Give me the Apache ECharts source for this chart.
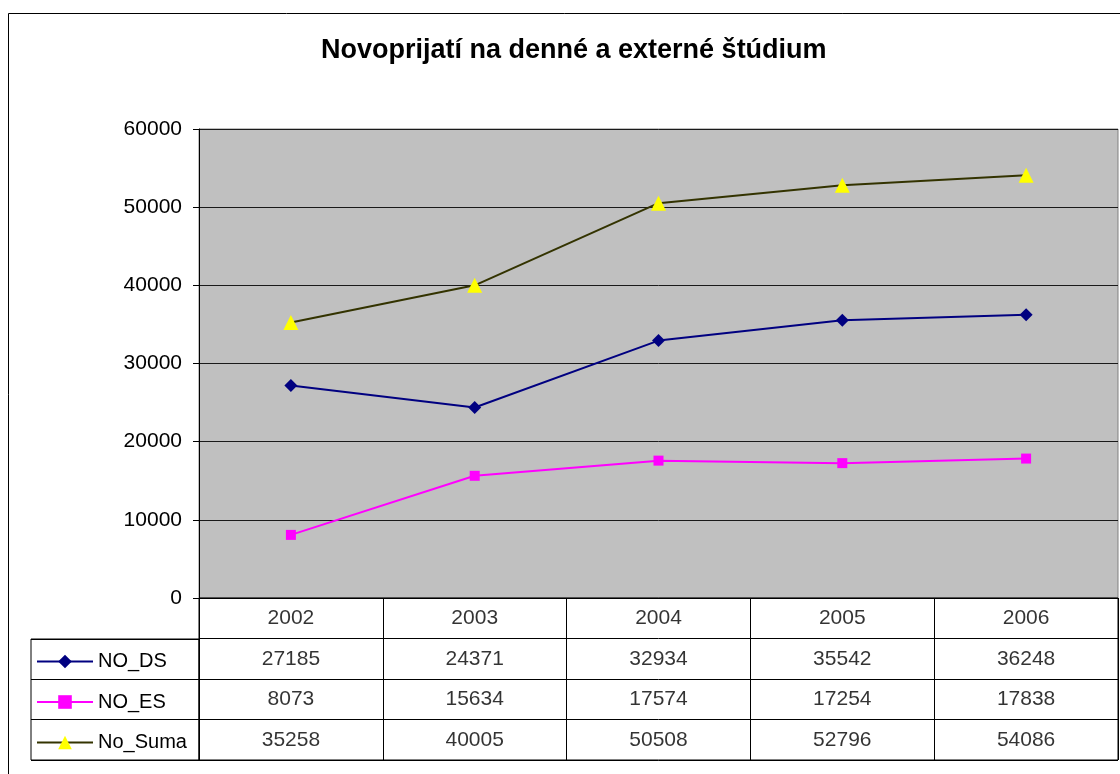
<!DOCTYPE html>
<html>
<head>
<meta charset="utf-8">
<script src="https://cdn.jsdelivr.net/npm/echarts@6/dist/echarts.min.js"></script>
<style>
html, body { margin: 0; padding: 0; background: #fff; }
#main { width: 1120px; height: 774px; }
</style>
</head>
<body>
<div id="main"></div>
<script>
// data
const years = ['2002', '2003', '2004', '2005', '2006'];
const noDS = [27185, 24371, 32934, 35542, 36248];
const noES = [8073, 15634, 17574, 17254, 17838];
const noSuma = [35258, 40005, 50508, 52796, 54086];
const names = ['NO_DS', 'NO_ES', 'No_Suma'];

const font = "'Liberation Sans', Arial, sans-serif";
const allVals = [noDS, noES, noSuma];

// data table cells: header row with years, then one row per series
let tableCells = [];
years.forEach((y) => {
  tableCells.push([y, 'hdr', y]);
});
names.forEach((n, i) => {
  years.forEach((y, j) => {
    tableCells.push([y, n, allVals[i][j]]);
  });
});

let option = {
  animation: false,
  backgroundColor: '#fff',
  textStyle: { fontFamily: font },
  title: {
    text: 'Novoprijatí na denné a externé štúdium',
    left: 321,
    top: 37,
    padding: 0,
    textStyle: { fontSize: 27, fontWeight: 'bold', color: '#000', fontFamily: font }
  },
  graphic: [
    {
      type: 'rect',
      shape: { x: 8.5, y: 13.5, width: 1200, height: 900 },
      style: { fill: 'none', stroke: '#000', lineWidth: 1 },
      silent: true
    }
  ],
  legend: {
    data: names,
    orient: 'vertical',
    left: 36,
    top: 651,
    padding: 0,
    itemWidth: 56,
    itemHeight: 17,
    itemGap: 19.5,
    textStyle: { fontSize: 20, lineHeight: 21, color: '#000', fontFamily: font }
  },
  grid: [
    {
      left: 199, right: 2, top: 129, height: 469,
      show: true, backgroundColor: '#C0C0C0', borderColor: '#808080', borderWidth: 1
    },
    {
      left: 199, right: 2, top: 598, height: 162,
      show: true, borderColor: '#000', borderWidth: 1
    },
    {
      left: 31, width: 168, top: 639, height: 121,
      show: true, borderColor: '#000', borderWidth: 1
    }
  ],
  xAxis: [
    {
      gridIndex: 0, type: 'category', data: years, boundaryGap: true,
      axisLine: { lineStyle: { color: '#000' } },
      axisTick: { show: false },
      axisLabel: { show: false }
    },
    {
      gridIndex: 1, type: 'category', data: years, boundaryGap: true,
      axisLine: { show: false }, axisTick: { show: false }, axisLabel: { show: false },
      splitLine: { show: true, interval: 0, lineStyle: { color: '#000' } }
    },
    {
      gridIndex: 2, type: 'value', show: false
    }
  ],
  yAxis: [
    {
      gridIndex: 0, type: 'value', min: 0, max: 60000, interval: 10000,
      axisLine: { show: true, lineStyle: { color: '#000' } },
      axisTick: { show: true, length: 6, lineStyle: { color: '#000' } },
      axisLabel: { fontSize: 21, color: '#000', margin: 17, fontFamily: font,
        formatter: (v) => String(v) },
      splitLine: { show: true, lineStyle: { color: '#1a1a1a', width: 1 } }
    },
    {
      gridIndex: 1, type: 'category', data: ['hdr'].concat(names), inverse: true,
      axisLine: { show: false }, axisTick: { show: false }, axisLabel: { show: false },
      splitLine: { show: true, interval: 0, lineStyle: { color: '#000' } }
    },
    {
      gridIndex: 2, type: 'category', data: names, inverse: true,
      axisLine: { show: false }, axisTick: { show: false }, axisLabel: { show: false },
      splitLine: { show: true, interval: 0, lineStyle: { color: '#000' } }
    }
  ],
  series: [
    {
      name: 'NO_DS', type: 'line', xAxisIndex: 0, yAxisIndex: 0, data: noDS,
      symbol: 'diamond', symbolSize: 13,
      lineStyle: { color: '#000080', width: 2 },
      itemStyle: { color: '#000080' }
    },
    {
      name: 'NO_ES', type: 'line', xAxisIndex: 0, yAxisIndex: 0, data: noES,
      symbol: 'rect', symbolSize: 10,
      lineStyle: { color: '#FF00FF', width: 2 },
      itemStyle: { color: '#FF00FF' }
    },
    {
      name: 'No_Suma', type: 'line', xAxisIndex: 0, yAxisIndex: 0, data: noSuma,
      symbol: 'triangle', symbolSize: 15,
      lineStyle: { color: '#333300', width: 2 },
      itemStyle: { color: '#FFFF00' }
    },
    {
      name: 'table', type: 'scatter', xAxisIndex: 1, yAxisIndex: 1,
      symbolSize: 0, silent: true,
      data: tableCells,
      label: {
        show: true, position: 'inside', fontSize: 21, color: '#000', fontFamily: font,
        formatter: (p) => String(p.value[2])
      }
    }
  ]
};

let myChart = echarts.init(document.getElementById('main'));
myChart.setOption(option);
</script>
</body>
</html>
